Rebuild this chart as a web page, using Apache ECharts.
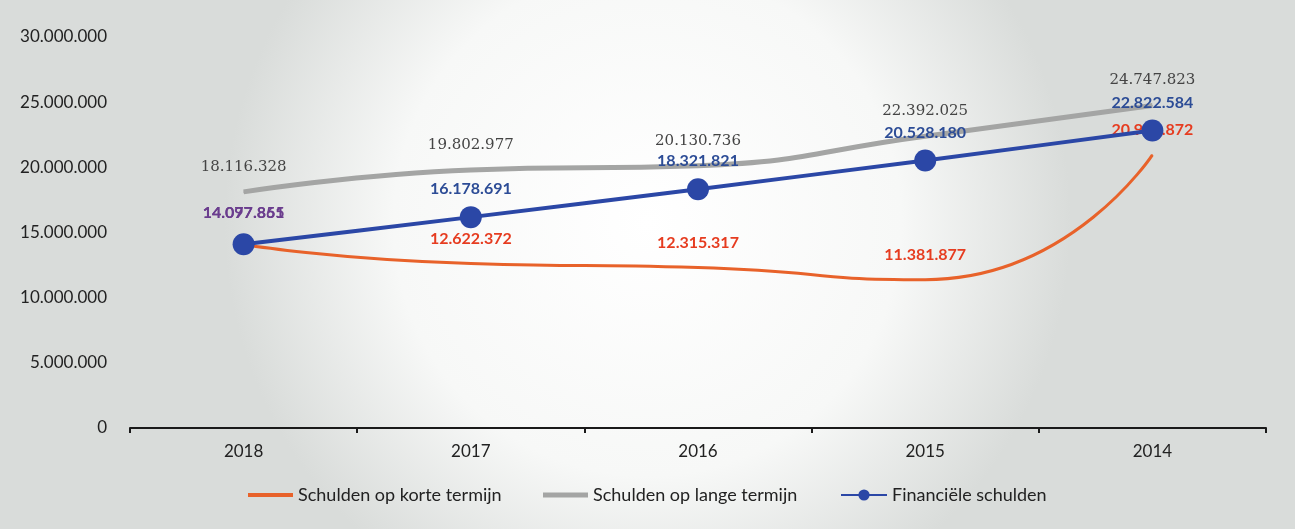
<!DOCTYPE html>
<html>
<head>
<meta charset="utf-8">
<script src="https://cdn.jsdelivr.net/npm/echarts@6/dist/echarts.min.js"></script>
<style>
  html, body { margin: 0; padding: 0; background: #fff; }
  #chart { width: 1295px; height: 529px; }
</style>
</head>
<body>
<div id="chart"></div>
<script>
// jaren (x-as)
var years = ['2018', '2017', '2016', '2015', '2014'];
// reeksen
var korteTermijn = [14077865, 12622372, 12315317, 11381877, 20958872];
var langeTermijn = [18116328, 19802977, 20130736, 22392025, 24747823];
var financieel = [14097851, 16178691, 18321821, 20528180, 22822584];
// y-as
var yMin = 0, yMax = 30000000, yStep = 5000000;

function dots(v) {
  return String(v).replace(/\B(?=(\d{3})+(?!\d))/g, '.');
}

// 2018: labels overlap, look purple in the original
function withFirstLabel(arr, label) {
  return arr.map(function (v, i) {
    return i === 0 ? { value: v, label: label } : v;
  });
}

var chart = echarts.init(document.getElementById('chart'));
var legendText = { fontFamily: 'Lato', fontSize: 18, color: '#222' };

chart.setOption({
  backgroundColor: {
    type: 'radial', x: 0.5, y: 0.42, r: 0.8,
    colorStops: [
      { offset: 0, color: '#ffffff' },
      { offset: 0.6, color: '#f7f8f7' },
      { offset: 1, color: '#d9dcda' }
    ]
  },
  animation: false,
  grid: { left: 130, right: 29, top: 37, bottom: 101 },
  legend: [
    { data: [{ name: 'Schulden op korte termijn', icon: 'rect' }], left: 243, top: 481, itemWidth: 45, itemHeight: 4, textStyle: legendText },
    { data: [{ name: 'Schulden op lange termijn', icon: 'rect' }], left: 538, top: 481, itemWidth: 45, itemHeight: 5, textStyle: legendText },
    { data: ['Financiële schulden'], left: 835, top: 481, itemWidth: 46, itemHeight: 14, textStyle: legendText }
  ],
  xAxis: {
    type: 'category',
    data: years,
    boundaryGap: true,
    axisLine: { lineStyle: { color: '#1a1a1a', width: 2 } },
    axisTick: { show: true, length: 5, lineStyle: { color: '#1a1a1a', width: 2 } },
    axisLabel: { margin: 15, fontFamily: 'Lato', fontSize: 17, color: '#222' },
    splitLine: { show: false }
  },
  yAxis: {
    type: 'value',
    min: yMin, max: yMax, interval: yStep,
    axisLine: { show: false },
    axisTick: { show: false },
    splitLine: { show: false },
    axisLabel: { margin: 23, fontFamily: 'Lato', fontSize: 17, color: '#222', formatter: dots }
  },
  series: [
    {
      name: 'Schulden op lange termijn',
      type: 'line',
      smooth: true,
      data: langeTermijn,
      symbol: 'circle',
      symbolSize: 1,
      z: 2,
      lineStyle: { color: '#a4a5a4', width: 5 },
      itemStyle: { color: '#a4a5a4' },
      label: {
        show: true, position: 'top', distance: 17,
        fontFamily: 'DejaVu Serif', fontSize: 15, color: '#444',
        formatter: function (p) { return dots(p.value); }
      }
    },
    {
      name: 'Schulden op korte termijn',
      type: 'line',
      smooth: 0.6,
      data: withFirstLabel(korteTermijn, { color: '#6e3f8e', distance: 23 }),
      symbol: 'circle',
      symbolSize: 1,
      z: 3,
      lineStyle: { color: '#e8622a', width: 3 },
      itemStyle: { color: '#e8622a' },
      label: {
        show: true, position: 'top', distance: 16,
        fontFamily: 'Lato', fontWeight: 'bold', fontSize: 16, color: '#e63c20',
        formatter: function (p) { return dots(p.value); }
      }
    },
    {
      name: 'Financiële schulden',
      type: 'line',
      smooth: 0.15,
      data: withFirstLabel(financieel, { color: '#6a3d8e', distance: 12 }),
      symbol: 'circle',
      symbolSize: 22,
      z: 4,
      lineStyle: { color: '#2b47a6', width: 4 },
      itemStyle: { color: '#2b47a6' },
      label: {
        show: true, position: 'top', distance: 9,
        fontFamily: 'Lato', fontWeight: 'bold', fontSize: 16, color: '#2c4c96',
        formatter: function (p) { return dots(p.value); }
      }
    }
  ]
});
</script>
</body>
</html>
